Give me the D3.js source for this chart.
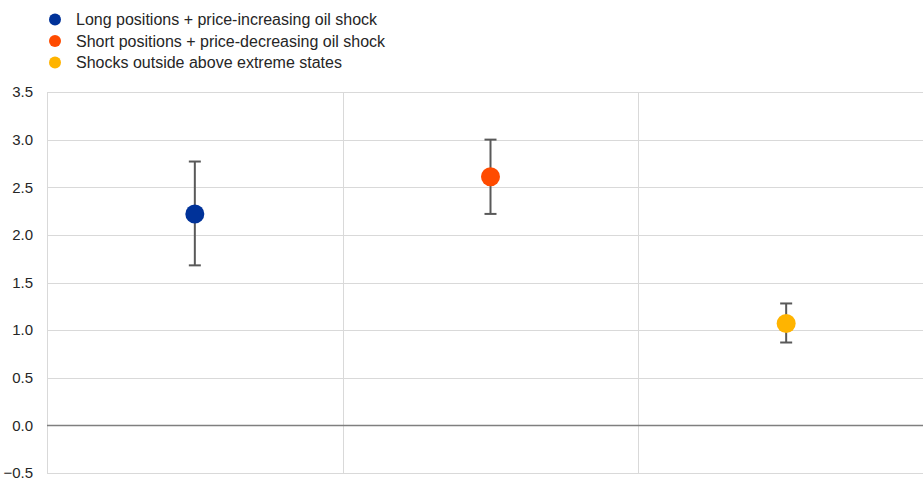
<!DOCTYPE html>
<html><head><meta charset="utf-8">
<script src="https://cdn.jsdelivr.net/npm/d3@7"></script>
<style>body{margin:0;background:#fff;}svg{display:block;font-family:"Liberation Sans",Arial,sans-serif;}</style>
</head><body>
<script>
const categories = ["Long positions + price-increasing oil shock","Short positions + price-decreasing oil shock","Shocks outside above extreme states"];
const values = [2.22, 2.61, 1.07];
const lower = [1.68, 2.22, 0.87];
const upper = [2.77, 3.00, 1.28];
const colors = ["#003299","#FF4B00","#FFB400"];
const yTicks = [-0.5,0,0.5,1.0,1.5,2.0,2.5,3.0,3.5];

(function(){
const W=923,H=479;
const svg=d3.select("body").append("svg").attr("width",W).attr("height",H);
const pL=47, pR=934, pT=92, pB=473;
const x=d3.scaleBand().domain(categories).range([pL,pR]).padding(0);
const y=d3.scaleLinear().domain([-0.5,3.5]).range([pB,pT]);

svg.append("g").selectAll("line").data(yTicks).join("line")
 .attr("x1",pL).attr("x2",pR).attr("y1",d=>Math.round(y(d))+0.5).attr("y2",d=>Math.round(y(d))+0.5)
 .attr("stroke","#d9d9d9").attr("stroke-width",1);
const vx=[pL,...categories.map(c=>x(c)+x.bandwidth())];
svg.append("g").selectAll("line").data(vx).join("line")
 .attr("x1",d=>Math.round(d)+0.5).attr("x2",d=>Math.round(d)+0.5).attr("y1",pT).attr("y2",pB)
 .attr("stroke","#d9d9d9");
svg.append("line").attr("x1",pL).attr("x2",pR).attr("y1",y(0)).attr("y2",y(0)).attr("stroke","#7f7f7f").attr("stroke-width",1.5);

svg.append("g").selectAll("text").data(yTicks).join("text")
 .attr("x",33).attr("y",d=>y(d)).attr("dy","0.35em").attr("text-anchor","end")
 .attr("font-size",15).attr("fill","#262626").text(d=>d3.format(".1f")(d));

const cx=c=>x(c)+x.bandwidth()/2;
const eb=svg.append("g").attr("stroke","#595959").attr("stroke-width",2);
categories.forEach((c,i)=>{
  eb.append("line").attr("x1",cx(c)).attr("x2",cx(c)).attr("y1",y(lower[i])).attr("y2",y(upper[i]));
  eb.append("line").attr("x1",cx(c)-6).attr("x2",cx(c)+6).attr("y1",y(lower[i])).attr("y2",y(lower[i]));
  eb.append("line").attr("x1",cx(c)-6).attr("x2",cx(c)+6).attr("y1",y(upper[i])).attr("y2",y(upper[i]));
});
svg.append("g").selectAll("circle").data(categories).join("circle")
 .attr("cx",c=>cx(c)).attr("cy",(c,i)=>y(values[i])).attr("r",9.5).attr("fill",(c,i)=>colors[i]);

const lg=svg.append("g");
categories.forEach((c,i)=>{
  const ly=19.5+i*21.5;
  lg.append("circle").attr("cx",55).attr("cy",ly).attr("r",6).attr("fill",colors[i]);
  lg.append("text").attr("x",76).attr("y",ly).attr("dy","0.35em").attr("font-size",16).attr("fill","#262626").text(c);
});
})();
</script>
</body></html>
